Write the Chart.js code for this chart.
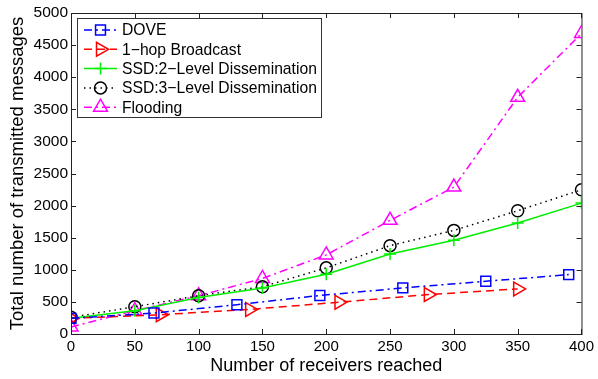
<!DOCTYPE html>
<html>
<head>
<meta charset="utf-8">
<script src="https://cdn.jsdelivr.net/npm/chart.js@4/dist/chart.umd.min.js"></script>
<style>
  html, body { margin: 0; padding: 0; background: #fff; }
  #wrap { width: 598px; height: 379px; }
</style>
</head>
<body>
<div id="wrap"><canvas id="chart" width="598" height="379"></canvas></div>
<script>
// values
const xTicks = [0, 50, 100, 150, 200, 250, 300, 350, 400];
const yTicks = [0, 500, 1000, 1500, 2000, 2500, 3000, 3500, 4000, 4500, 5000];

const doveX = [0, 65, 130, 195, 260, 325, 390];
const doveY = [244, 326, 456, 600, 718, 821, 925];

const hopX = [0, 70, 140, 210, 280, 350];
const hopY = [244, 300, 383, 495, 614, 702];

const ssdX = [0, 50, 100, 150, 200, 250, 300, 350, 400];
const ssd2Y = [244, 363, 570, 715, 930, 1246, 1459, 1728, 2039];
const ssd3Y = [259, 425, 596, 736, 1030, 1376, 1614, 1920, 2246];
const floodY = [110, 363, 596, 865, 1232, 1770, 2288, 3687, 4681];

const seriesNames = ['DOVE', '1\u2212hop Broadcast', 'SSD:2\u2212Level Dissemination', 'SSD:3\u2212Level Dissemination', 'Flooding'];

function pts(xs, ys) {
    return xs.map((x, i) => ({ x: x, y: ys[i] }));
}

const FONT = '"Liberation Sans", Arial, Helvetica, sans-serif';
const AXIS = '#222';

function drawMarker(ctx, ds, x, y) {
    const r = ds.pointRadius;
    ctx.save();
    ctx.setLineDash([]);
    ctx.strokeStyle = ds.pointBorderColor;
    ctx.lineWidth = ds.pointBorderWidth;
    ctx.beginPath();
    if (ds.pointStyle === 'rect') {
        const s = Math.SQRT1_2 * r;
        ctx.rect(x - s, y - s, 2 * s, 2 * s);
    } else if (ds.pointStyle === 'circle') {
        ctx.arc(x, y, r, 0, Math.PI * 2);
    } else if (ds.pointStyle === 'cross') {
        ctx.moveTo(x - r, y); ctx.lineTo(x + r, y);
        ctx.moveTo(x, y - r); ctx.lineTo(x, y + r);
    } else if (ds.pointStyle === 'triangle') {
        let a = (ds.pointRotation || 0) * Math.PI / 180;
        for (let k = 0; k < 3; k++) {
            const px = x + Math.sin(a) * r, py = y - Math.cos(a) * r;
            if (k === 0) ctx.moveTo(px, py); else ctx.lineTo(px, py);
            a += 2 * Math.PI / 3;
        }
        ctx.closePath();
    }
    ctx.stroke();
    ctx.restore();
}

const framePlugin = {
    id: 'frame',
    afterDatasetsDraw(chart) {
        const ctx = chart.ctx;
        const a = chart.chartArea;
        const xs = chart.scales.x, ys = chart.scales.y;
        ctx.save();
        ctx.strokeStyle = AXIS;
        ctx.lineWidth = 1;
        ctx.setLineDash([]);
        ctx.strokeRect(a.left + 0.5, a.top + 0.5, a.right - a.left, a.bottom - a.top);
        ctx.beginPath();
        const tl = 5;
        xTicks.forEach(v => {
            const p = Math.round(xs.getPixelForValue(v)) + 0.5;
            ctx.moveTo(p, a.bottom); ctx.lineTo(p, a.bottom - tl);
            ctx.moveTo(p, a.top); ctx.lineTo(p, a.top + tl);
        });
        yTicks.forEach(v => {
            const p = Math.round(ys.getPixelForValue(v)) + 0.5;
            ctx.moveTo(a.left, p); ctx.lineTo(a.left + tl, p);
            ctx.moveTo(a.right, p); ctx.lineTo(a.right - tl, p);
        });
        ctx.stroke();

        // MATLAB style legend box
        const bx = 77.5, by = 18.5, bw = 244, bh = 99;
        ctx.fillStyle = '#fff';
        ctx.fillRect(bx, by, bw, bh);
        ctx.strokeStyle = '#333';
        ctx.strokeRect(bx, by, bw, bh);
        ctx.font = '15.7px ' + FONT;
        ctx.textBaseline = 'middle';
        ctx.textAlign = 'left';
        chart.data.datasets.forEach((ds, i) => {
            const cy = 30 + i * 19.3;
            ctx.save();
            ctx.strokeStyle = ds.borderColor;
            ctx.lineWidth = ds.borderWidth;
            ctx.setLineDash(ds.borderDash || []);
            ctx.beginPath();
            ctx.moveTo(84, cy); ctx.lineTo(117, cy);
            ctx.stroke();
            ctx.restore();
            drawMarker(ctx, ds, 100.5, cy);
            ctx.fillStyle = '#000';
            ctx.fillText(ds.label, 122, cy + 1);
        });
        ctx.restore();
    }
};

function series(label, data, color, dash, style, radius, rot) {
    return {
        label: label,
        data: data,
        borderColor: color,
        backgroundColor: 'rgba(0,0,0,0)',
        borderWidth: 1.5,
        borderDash: dash,
        pointStyle: style,
        pointRadius: radius,
        pointHoverRadius: radius,
        pointRotation: rot || 0,
        pointBorderColor: color,
        pointBackgroundColor: 'rgba(0,0,0,0)',
        pointBorderWidth: 1.5,
        tension: 0,
        fill: false
    };
}

const datasets = [
    series(seriesNames[0], pts(doveX, doveY), '#0000ff', [8, 4, 2, 4], 'rect', 7),
    series(seriesNames[1], pts(hopX, hopY), '#ff0000', [8, 5], 'triangle', 8, 90),
    series(seriesNames[2], pts(ssdX, ssd2Y), '#00ee00', [], 'cross', 6),
    series(seriesNames[3], pts(ssdX, ssd3Y), '#000000', [1.5, 4], 'circle', 6),
    series(seriesNames[4], pts(ssdX, floodY), '#ff00ff', [8, 4, 2, 4], 'triangle', 8)
];

new Chart(document.getElementById('chart').getContext('2d'), {
    type: 'line',
    data: { datasets: datasets },
    options: {
        responsive: false,
        animation: false,
        events: [],
        layout: { padding: { left: 0, right: 15, top: 13, bottom: 0 } },
        plugins: { legend: { display: false }, tooltip: { enabled: false } },
        scales: {
            x: {
                type: 'linear',
                min: 0, max: 400,
                afterFit(scale) { scale.height = 45; },
                afterBuildTicks(scale) { scale.ticks = xTicks.map(v => ({ value: v })); },
                grid: { display: false, drawTicks: false },
                border: { display: false },
                ticks: { color: '#000', padding: 4, maxRotation: 0, callback: v => String(v), font: { family: FONT, size: 15 } },
                title: { display: true, text: 'Number of receivers reached', color: '#000', padding: { top: 0, bottom: 2 }, font: { family: FONT, size: 18 } }
            },
            y: {
                type: 'linear',
                min: 0, max: 5000,
                afterFit(scale) { scale.width = 71; },
                afterBuildTicks(scale) { scale.ticks = yTicks.map(v => ({ value: v })); },
                grid: { display: false, drawTicks: false },
                border: { display: false },
                ticks: { color: '#000', padding: 3, callback: v => String(v), font: { family: FONT, size: 15.5 } },
                title: { display: true, text: 'Total number of transmitted messages', color: '#000', padding: { top: 7, bottom: 0 }, font: { family: FONT, size: 18.5 } }
            }
        }
    },
    plugins: [framePlugin]
});
</script>
</body>
</html>
